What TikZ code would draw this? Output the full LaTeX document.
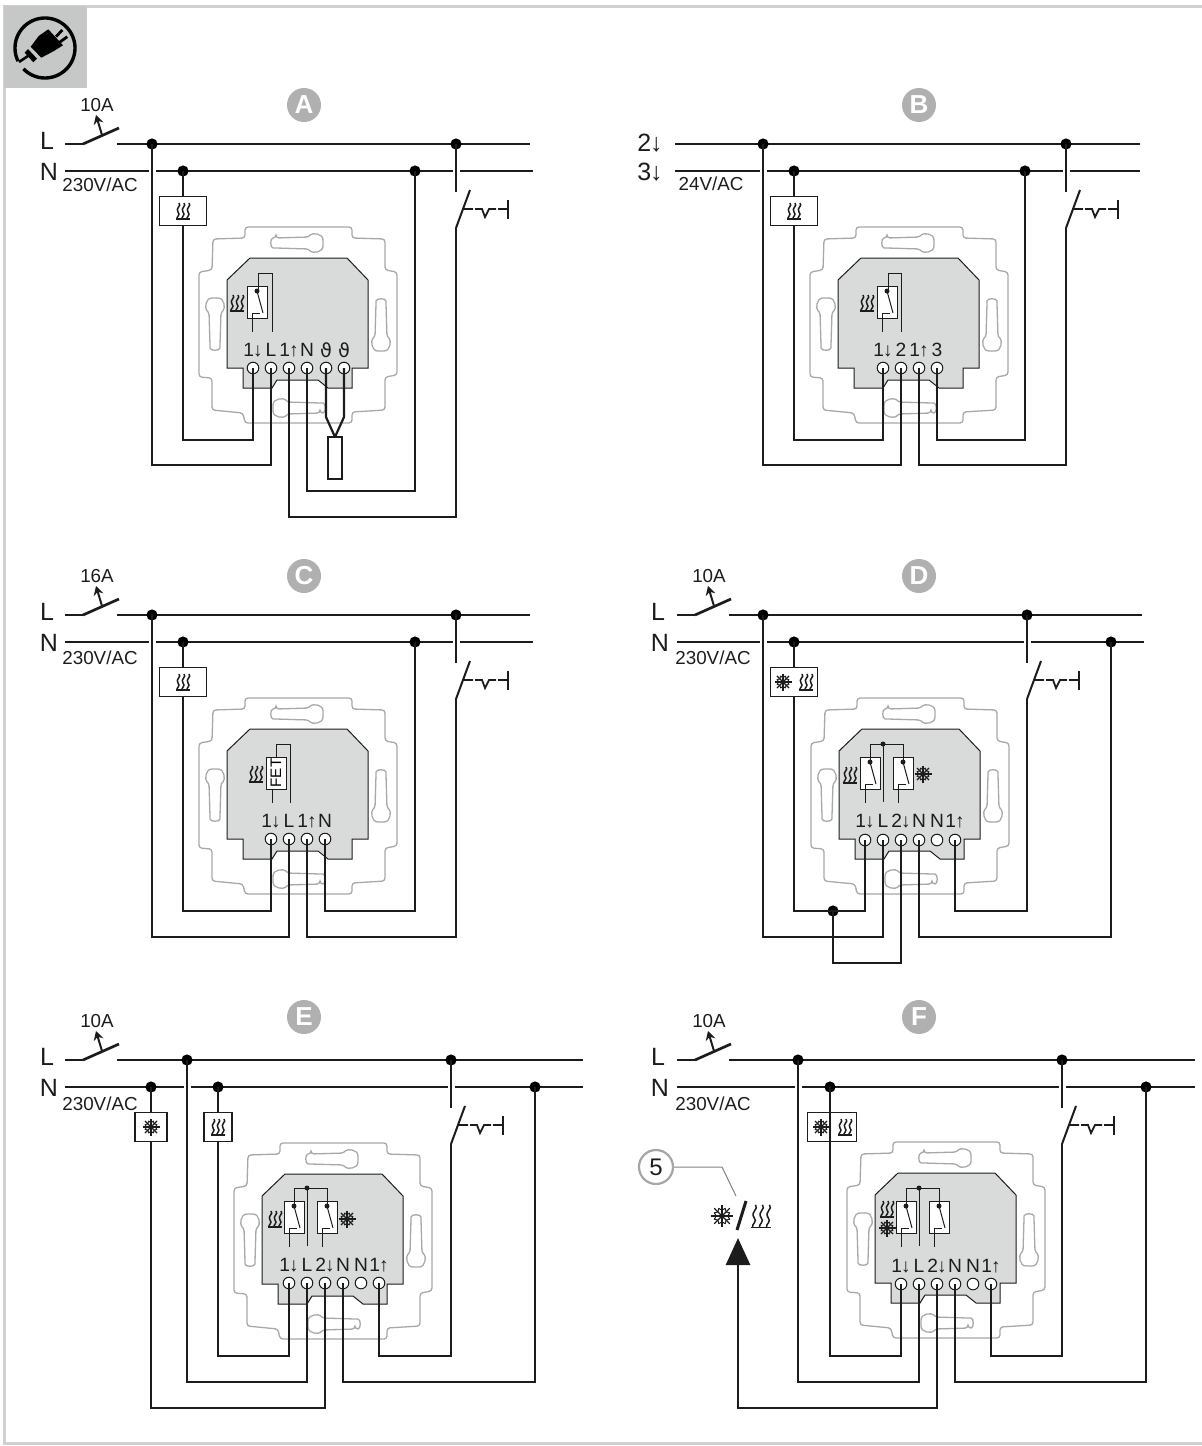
\documentclass[tikz,border=0pt]{standalone}
\usepackage{fontspec}
\setmainfont{Liberation Sans}
\newfontfamily\thetafont{DejaVu Sans}
\usetikzlibrary{arrows.meta}
\definecolor{inkc}{HTML}{1C1C1C}
\definecolor{bodyc}{HTML}{D9DBDA}
\definecolor{platec}{HTML}{A8A8A8}
\definecolor{framec}{HTML}{D0D1D0}
\definecolor{tabc}{HTML}{C6C8C7}
\definecolor{badgec}{HTML}{B0B0B0}
\newcommand{\thsym}{{\thetafont ϑ}}
\newcommand{\dnarr}{\kern-0.5pt\textbf{↓}}
\newcommand{\uparr}{\kern-0.5pt\textbf{↑}}
\tikzset{
  wire/.style={draw=inkc,line width=1.35pt},
  thinl/.style={draw=inkc,line width=0.5pt},
  platel/.style={draw=platec,line width=0.65pt,rounded corners=1.5pt},
  dot/.style={circle,fill=black,inner sep=0pt,minimum size=5.6pt},
  term/.style={circle,draw=inkc,fill=white,line width=0.5pt,inner sep=0pt,minimum size=5.8pt},
  termlab/.style={inner sep=0pt,text=inkc,font=\fontsize{9.6}{9.6}\selectfont},
  lab/.style={inner sep=0pt,text=inkc,font=\fontsize{9.4}{9.4}\selectfont},
  biglab/.style={inner sep=0pt,text=inkc,font=\fontsize{12.5}{12.5}\selectfont},
  badge/.style={circle,fill=badgec,text=white,inner sep=0pt,minimum size=17pt,font=\fontsize{13}{13}\bfseries\selectfont},
  loadbox/.style={draw=inkc,fill=white,line width=0.55pt,inner sep=0pt,minimum height=14.5pt,minimum width=#1*0.5pt},
  sensor/.style={draw=inkc,fill=white,line width=0.55pt,inner sep=0pt,minimum height=21pt,minimum width=7pt},
  heat/.pic={
    \foreach \hx in {-5,0,5}
      \draw[inkc,line width=0.75pt] (\hx+1,-8) .. controls (\hx+4,-5) and (\hx-3,-3) .. (\hx,1) .. controls (\hx+3,4) and (\hx-2,6) .. (\hx-1,8);
    \draw[inkc,line width=0.75pt] (-7.5,8.2) -- (7,8.2);
  },
  frost/.pic={
    \foreach \a in {0,45,...,315} {
      \draw[inkc,line width=0.55pt] (0,0) -- (\a:8.5);
      \draw[inkc,line width=0.5pt] (\a+24:6.5) -- (\a:4.5) -- (\a-24:6.5);
    }
  },
  relay/.pic={
    \draw[thinl,fill=white] (-10,0) rectangle (10,32);
    \fill[inkc] (0,5) circle[radius=2.5];
    \draw[thinl] (0,5) -- (6,27);
    \draw[thinl] (-5,46) |- (3,27);
  },
  relaypair/.pic={
    \pic at (-13,13) {relay};
    \pic at (20,13) {relay};
    \draw[thinl] (-13,18) |- (20,0) -- (20,18);
    \draw[thinl] (0,0) -- (0,58);
    \fill[inkc] (0,0) circle[radius=2.5];
  },
  wallsw/.pic={
    \draw[thinl,line width=1pt] (0,0) -- (14,-38);
    \draw[wire,line width=0.9pt] (8,-19) -- (17,-19) (19,-19) -- (26,-19) -- (29,-11) -- (33,-19) -- (40,-19) (42,-19) -- (52,-19);
    \draw[wire,line width=0.9pt] (52,-28) -- (52,-9);
  },
  breaker/.pic={
    \draw[wire] (0,0) -- (36,-16);
    \draw[wire,line width=1pt,-{Stealth[length=4.5pt,width=5pt]}] (19,-9) -- (13,-29);
  },
  mbase/.pic={
    \draw[platel] (245,227) -- (245,238) -- (213,239) -- (212,270) -- (199,272) -- (199,377) -- (212,378) -- (212,410) -- (243,413) -- (245,423) -- (352,423) -- (352,412) -- (385,410) -- (385,377) -- (397,375) -- (397,272) -- (385,270) -- (385,239) -- (352,238) -- (352,227) -- cycle;
    \foreach \kx/\ky/\ka in {298/243/0,298/408/180,215/323/90,381/326/-90}
      \draw[platel,shift={(\kx,\ky)},rotate=\ka] (-22,-5) -- (11,-6) .. controls (14,-10) and (25,-10) .. (25,0) .. controls (25,10) and (14,10) .. (11,6) -- (-22,5) .. controls (-28,5) and (-28,-5) .. (-22,-5) -- cycle;
    \draw[fill=bodyc,draw=inkc,line width=0.5pt] (250,258) -- (347,258) -- (368,280) -- (368,368) -- (352,368) -- (352,388) -- (328,388) -- (318,380) -- (277,380) -- (272,388) -- (243,388) -- (243,368) -- (227,368) -- (227,280) -- cycle;
  }
}
\begin{document}
\begin{tikzpicture}[x=0.5pt,y=-0.5pt]
\useasboundingbox (0,0) rectangle (1202,1446);
\draw[framec,line width=1.5pt] (1202,6) -- (4,6) -- (4,1443) -- (1202,1443);
\fill[tabc] (4,6) rectangle (87,88);
\draw[black,line width=1.7pt,shift={(45,48)}] plot[domain=154:496,samples=70] (\x:30);
\fill[black] (48.3,29.3) -- (63,45.3) -- (54,51) -- (41.3,57.7) -- (30.7,46.7) -- (38.7,36) -- cycle;
\fill[black] (24.7,52.7) -- (28,49) -- (37,58.7) -- (33.3,62.3) -- cycle;
\draw[black,line width=1.3pt] (19,62) -- (29,55.3);
\draw[black,line width=1.4pt] (56,36.7) -- (62.3,30) (59,42.7) -- (67.3,36.7);

\foreach \bn/\bx/\by in {A/304/105,B/919/105,C/304/576,D/919/576,E/304/1017,F/919/1017}
  \node[badge] (b\bn) at (\bx,\by) {\bn};

\pic at (0,0) {mbase};
\pic at (611,0) {mbase};
\pic at (0,471) {mbase};
\pic at (612,471) {mbase};
\pic at (35,916) {mbase};
\pic at (648,915) {mbase};

\foreach \tn/\tx/\tl in {A1/253/1\dnarr,A2/271/L,A3/289/1\uparr,A4/307/N,A5/326/\thsym,A6/344/\thsym}
  {\node[term] (\tn) at (\tx,368) {}; \node[termlab] (l\tn) at (\tx,350) {\tl};}
\foreach \tn/\tx/\tl in {B1/883/1\dnarr,B2/901/2,B3/919/1\uparr,B4/937/3}
  {\node[term] (\tn) at (\tx,368) {}; \node[termlab] (l\tn) at (\tx,350) {\tl};}
\foreach \tn/\tx/\tl in {C1/271/1\dnarr,C2/289/L,C3/307/1\uparr,C4/325/N}
  {\node[term] (\tn) at (\tx,839) {}; \node[termlab] (l\tn) at (\tx,821) {\tl};}
\foreach \tn/\tx/\tl in {D1/865/1\dnarr,D2/883/L,D3/901/2\dnarr,D4/919/N,D5/937/N,D6/955/1\uparr}
  {\node[term] (\tn) at (\tx,840) {}; \node[termlab] (l\tn) at (\tx,821) {\tl};}
\foreach \tn/\tx/\tl in {E1/289/1\dnarr,E2/307/L,E3/325/2\dnarr,E4/343/N,E5/361/N,E6/379/1\uparr}
  {\node[term] (\tn) at (\tx,1283) {}; \node[termlab] (l\tn) at (\tx,1265) {\tl};}
\foreach \tn/\tx/\tl in {F1/901/1\dnarr,F2/919/L,F3/937/2\dnarr,F4/955/N,F5/973/N,F6/991/1\uparr}
  {\node[term] (\tn) at (\tx,1284) {}; \node[termlab] (l\tn) at (\tx,1266) {\tl};}

% relays
\pic at (257,286) {relay};
\draw[thinl] (258,291) |- (272,273) -- (272,332);
\pic at (237,303) {heat};
\pic at (887,286) {relay};
\draw[thinl] (888,291) |- (901,273) -- (901,332);
\pic at (867,303) {heat};
\node[draw=inkc,fill=white,line width=0.5pt,inner sep=0pt,minimum width=16pt,minimum height=10pt,rotate=90,font=\fontsize{7.6}{7.6}\selectfont] (fet) at (276,773) {FET};
\draw[thinl] (fet.east) |- (290,744) -- (290,803);
\draw[thinl] (272,789) -- (272,803);
\pic at (256,774) {heat};
\pic at (883,744) {relaypair};
\pic at (850,775) {heat};
\pic at (923,774) {frost};
\pic at (307,1188) {relaypair};
\pic at (275,1219) {heat};
\pic at (347,1219) {frost};
\pic at (919,1188) {relaypair};
\pic at (887,1209) {heat};
\pic at (887,1228) {frost};

% breakers and buses
\foreach \cn/\cx/\cy in {
  LaA/65/144,brA/83/144,LsA/117/144,LeA/530/144,NaA/65/171,NeA/533/171,
  LaB/675/144,LeB/1140/144,NaB/675/171,NeB/1140/171,
  LaC/65/615,brC/83/615,LsC/117/615,LeC/530/615,NaC/65/642,NeC/533/642,
  LaD/677/615,brD/695/615,LsD/729/615,LeD/1142/615,NaD/677/642,NeD/1144/642,
  LaE/65/1060,brE/83/1060,LsE/117/1060,LeE/583/1060,NaE/65/1087,NeE/583/1087,
  LaF/677/1060,brF/695/1060,LsF/729/1060,LeF/1195/1060,NaF/677/1087,NeF/1195/1087}
  \coordinate (\cn) at (\cx,\cy);
\foreach \p in {A,C,D,E,F} {
  \draw[wire] (La\p) -- (br\p);
  \pic at (br\p) {breaker};
  \draw[wire] (Ls\p) -- (Le\p);
  \draw[wire] (Na\p) -- (Ne\p);
}
\draw[wire] (LaB) -- (LeB);
\draw[wire] (NaB) -- (NeB);

\foreach \gx/\gy in {152/171,456/171,763/171,1066/171,152/642,456/642,763/642,1027/642,187/1087,451/1087,798/1087,1062/1087}
  \fill[white] (\gx-3.5,\gy-3) rectangle (\gx+3.5,\gy+3);

% junctions
\foreach \jn/\jx/\jy in {
  jA1/152/144,jA2/183/171,jA3/415/171,jA4/456/144,
  jB1/763/144,jB2/794/171,jB3/1025/171,jB4/1066/144,
  jC1/152/615,jC2/183/642,jC3/415/642,jC4/456/615,
  jD1/763/615,jD2/794/642,jD3/1027/615,jD4/1111/642,jD5/833/911,
  jE1/187/1060,jE2/151/1087,jE3/218/1087,jE4/451/1060,jE5/535/1087,
  jF1/798/1060,jF2/830/1087,jF3/1062/1060,jF4/1146/1087}
  \node[dot] (\jn) at (\jx,\jy) {};

% load boxes
\node[loadbox=47] (hA) at (183,211) {};
\node[loadbox=47] (hB) at (794,211) {};
\node[loadbox=47] (hC) at (183,682) {};
\node[loadbox=47] (hD) at (794,682) {};
\node[loadbox=32] (fE) at (151,1127) {};
\node[loadbox=28] (hE) at (218,1127) {};
\node[loadbox=49] (hF) at (832,1127) {};
\foreach \hn in {hA,hB,hC} \pic at (\hn) {heat};
\pic at (783,682) {frost};
\pic at (806,682) {heat};
\pic at (fE) {frost};
\pic at (hE) {heat};
\pic at (821,1127) {frost};
\pic at (845,1127) {heat};

% wall switches
\foreach \sn/\sx/\sy in {sA/456/228,sB/1066/228,sC/456/699,sD/1027/699,sE/451/1144,sF/1062/1144}
  {\coordinate (\sn) at (\sx,\sy); \coordinate (t\sn) at (\sx,\sy-36); \pic at (\sn) {wallsw};}
\draw[wire] (jA4.center) -- (tsA);
\draw[wire] (jB4.center) -- (tsB);
\draw[wire] (jC4.center) -- (tsC);
\draw[wire] (jD3.center) -- (tsD);
\draw[wire] (jE4.center) -- (tsE);
\draw[wire] (jF3.center) -- (tsF);

\foreach \cn/\cx/\cy in {
  cA1/183/440,cA2/152/465,cA3/415/491,cA4/456/517,
  cB1/794/440,cB2/763/465,cB3/1066/465,cB4/1025/440,
  cC1/183/911,cC2/152/937,cC3/456/937,cC4/415/911,
  cD1/794/911,cD2/763/937,cD3/1111/937,cD4/1027/911,cD5/833/963,
  cE1/151/1408,cE2/187/1382,cE3/218/1356,cE4/535/1382,cE5/451/1356,
  cF1/798/1382,cF2/830/1356,cF3/1146/1382,cF4/1062/1356,cF5/738/1408,
  sb5/326/417,sb6/344/417,sv/335/437}
  \coordinate (\cn) at (\cx,\cy);

% panel A
\draw[wire] (jA2.center) -- (hA);
\draw[wire] (hA) -- (cA1) -| (A1.center);
\draw[wire] (jA1.center) -- (cA2) -| (A2.center);
\draw[wire] (jA3.center) -- (cA3) -| (A4.center);
\draw[wire] (sA) -- (cA4) -| (A3.center);
\draw[wire,line width=1.1pt] (A5.center) -- (sb5) -- (sv);
\draw[wire,line width=1.1pt] (A6.center) -- (sb6) -- (sv);
\node[sensor] (sens) at (335,458) {};
% panel B
\draw[wire] (jB2.center) -- (hB);
\draw[wire] (hB) -- (cB1) -| (B1.center);
\draw[wire] (jB1.center) -- (cB2) -| (B2.center);
\draw[wire] (sB) -- (cB3) -| (B3.center);
\draw[wire] (jB3.center) -- (cB4) -| (B4.center);
% panel C
\draw[wire] (jC2.center) -- (hC);
\draw[wire] (hC) -- (cC1) -| (C1.center);
\draw[wire] (jC1.center) -- (cC2) -| (C2.center);
\draw[wire] (sC) -- (cC3) -| (C3.center);
\draw[wire] (jC3.center) -- (cC4) -| (C4.center);
% panel D
\draw[wire] (jD2.center) -- (hD);
\draw[wire] (hD) -- (cD1) -| (D1.center);
\draw[wire] (jD1.center) -- (cD2) -| (D2.center);
\draw[wire] (jD5.center) -- (cD5) -| (D3.center);
\draw[wire] (jD4.center) -- (cD3) -| (D4.center);
\draw[wire] (sD) -- (cD4) -| (D6.center);
% panel E
\draw[wire] (jE2.center) -- (fE);
\draw[wire] (fE) -- (cE1) -| (E3.center);
\draw[wire] (jE1.center) -- (cE2) -| (E2.center);
\draw[wire] (jE3.center) -- (hE);
\draw[wire] (hE) -- (cE3) -| (E1.center);
\draw[wire] (jE5.center) -- (cE4) -| (E4.center);
\draw[wire] (sE) -- (cE5) -| (E6.center);
% panel F
\draw[wire] (jF2.center) -- (hF.south -| jF2);
\draw[wire] (hF.south -| jF2) -- (cF2) -| (F1.center);
\draw[wire] (jF1.center) -- (cF1) -| (F2.center);
\draw[wire] (jF4.center) -- (cF3) -| (F4.center);
\draw[wire] (sF) -- (cF4) -| (F6.center);
\coordinate (atip) at (738,1238);
\draw[wire,-{Triangle[length=13.5pt,width=12pt]}] (F3.center) |- (cF5) -- (atip);

% legend item 5
\node[circle,draw=gray!70,line width=1.1pt,inner sep=0pt,minimum size=17pt,font=\fontsize{12}{12}\selectfont,text=inkc] (n5) at (656,1167) {5};
\coordinate (lk5) at (722,1167);
\coordinate (le5) at (736,1196);
\draw[gray,line width=0.5pt] (n5) -- (lk5) -- (le5);
\pic[scale=1.3] at (722,1216) {frost};
\coordinate (sl1) at (746,1201);
\coordinate (sl2) at (737,1230);
\draw[wire,line width=1.5pt] (sl1) -- (sl2);
\pic[scale=1.4] at (761,1216) {heat};

% labels
\foreach \tn/\tx/\ty/\tl in {qLA/47/141/L,qNA/49/172/N,qLC/47/612/L,qNC/49/643/N,qLD/658/612/L,qND/660/643/N,qLE/47/1057/L,qNE/49/1088/N,qLF/658/1057/L,qNF/660/1088/N,qLB/650/143/2\dnarr,qNB/650/172/3\dnarr}
  \node[biglab] (\tn) at (\tx,\ty) {\tl};
\foreach \tn/\tx/\ty/\tl in {vA/100/185/230V\slash AC,vB/711/184/24V\slash AC,vC/100/658/230V\slash AC,vD/713/658/230V\slash AC,vE/100/1104/230V\slash AC,vF/713/1104/230V\slash AC,
  iA/97/105/10A,iC/97/576/16A,iD/709/576/10A,iE/97/1021/10A,iF/709/1021/10A}
  \node[lab] (\tn) at (\tx,\ty) {\tl};
\end{tikzpicture}
\end{document}
